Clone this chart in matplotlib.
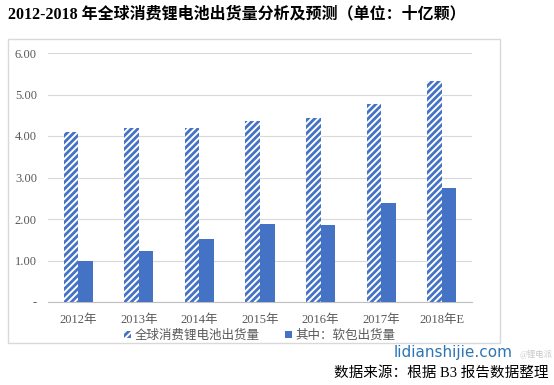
import matplotlib.pyplot as plt
import matplotlib.patches as mpatches
import numpy as np

plt.rcParams['font.family'] = ['Liberation Serif', 'Noto Sans CJK SC']
plt.rcParams['hatch.linewidth'] = 2.0

years = ['2012年', '2013年', '2014年', '2015年', '2016年', '2017年', '2018年E']
total = [4.10, 4.20, 4.20, 4.35, 4.44, 4.76, 5.33]
pouch = [1.00, 1.24, 1.52, 1.88, 1.86, 2.38, 2.75]
yticks = [0, 1, 2, 3, 4, 5, 6]
ytick_labels = ['-', '1.00', '2.00', '3.00', '4.00', '5.00', '6.00']

W, H = 554, 385
blue = '#4472C4'
grey = '#595959'

fig = plt.figure(figsize=(W / 100, H / 100), dpi=100)

# outer chart frame
fig.patches.append(mpatches.Rectangle((8 / W, 1 - 343 / H), 492 / W, 304 / H,
                                      transform=fig.transFigure, fill=False,
                                      edgecolor='#D9D9D9', linewidth=1))

ax = fig.add_axes([48 / W, 1 - 302 / H, 424 / W, 249 / H])
x = np.arange(len(years))
bw = 0.24
ax.bar(x - bw / 2, total, bw, facecolor='white', edgecolor=blue, hatch='/////',
       linewidth=0, label='全球消费锂电池出货量', zorder=3)
ax.bar(x + bw / 2, pouch, bw, color=blue, linewidth=0,
       label='其中：软包出货量', zorder=3)

ax.set_xlim(-0.5, len(years) - 0.5)
ax.set_ylim(0, 6)
ax.set_yticks(yticks)
ax.set_yticklabels(ytick_labels)
ax.set_xticks(x)
ax.set_xticklabels(years)
ax.tick_params(length=0, colors=grey, labelsize=9)
ax.tick_params(axis='x', pad=9)
ax.tick_params(axis='y', pad=8)
ax.grid(axis='y', color='#D9D9D9', linewidth=0.8, zorder=0)
for s in ['top', 'right', 'left']:
    ax.spines[s].set_visible(False)
ax.spines['bottom'].set_color('#BFBFBF')

ax.legend(loc='center', bbox_to_anchor=(0.5, -0.135), ncol=2, frameon=False,
          fontsize=9, labelcolor=grey, handlelength=0.55, handleheight=0.55,
          handletextpad=0.3, columnspacing=2.0)

fig.text(8 / W, 1 - 14 / H, '2012-2018 年全球消费锂电池出货量分析及预测（单位：十亿颗）',
         fontsize=11.5, fontweight='bold', va='center', ha='left')
fig.text(513 / W, 1 - 352 / H, 'lidianshijie.com', family='DejaVu Sans',
         fontsize=11, color='#2E75B6', va='center', ha='right')
fig.text(553 / W, 1 - 354 / H, '@锂电派', fontsize=6, color='#C8C8C8',
         va='center', ha='right', zorder=0)
fig.text(548 / W, 1 - 373 / H, '数据来源：根据 B3 报告数据整理',
         fontsize=10.5, va='center', ha='right')

fig.savefig('out.png', dpi=100)
